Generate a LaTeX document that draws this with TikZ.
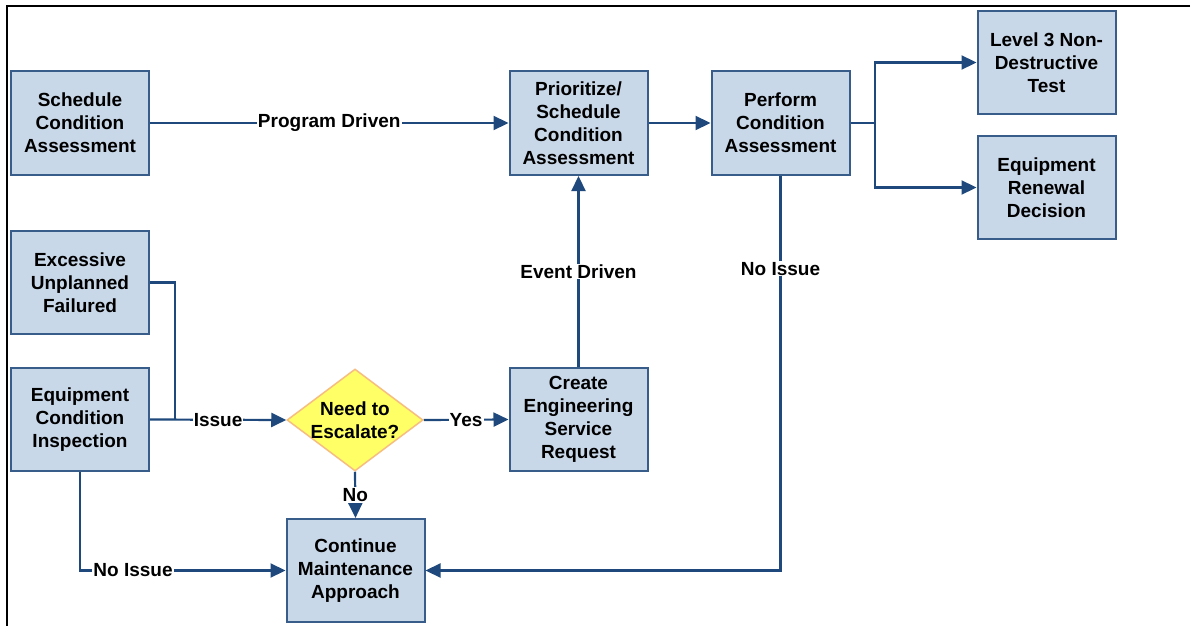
\documentclass[tikz,border=0pt]{standalone}
\usepackage{fontspec}
\setmainfont{Liberation Sans}
\usetikzlibrary{shapes.geometric,arrows.meta}
\definecolor{boxfill}{RGB}{201,216,233}
\definecolor{boxline}{RGB}{56,93,138}
\definecolor{conn}{RGB}{31,73,125}
\definecolor{dfill}{RGB}{255,255,102}
\definecolor{dline}{RGB}{247,190,130}
\tikzset{
  boxnode/.style={draw=boxline, line width=2pt, fill=boxfill, minimum width=138pt, minimum height=104pt,
    inner sep=0pt, align=center, font=\fontsize{19}{23}\selectfont\bfseries},
  dianode/.style={diamond, draw=dline, line width=1.5pt, fill=dfill, minimum width=136pt, minimum height=102pt, inner sep=0pt},
  dtext/.style={align=center, font=\fontsize{19}{23}\selectfont\bfseries},
  lbl/.style={fill=white, inner sep=1pt, font=\fontsize{19}{23}\selectfont\bfseries},
  conline/.style={draw=conn, line width=2.2pt},
  arr/.style={conline, -{Triangle[length=15pt,width=14pt]}},
  frameline/.style={draw=black, line width=2pt}
}
\begin{document}
\begin{tikzpicture}[x=1pt,y=-1pt]
\useasboundingbox (0,0) rectangle (1195,626);
\coordinate (fa) at (1190,6);
\coordinate (fb) at (7,6);
\coordinate (fc) at (7,626);
\draw[frameline] (fa) -- (fb) -- (fc);

\node[boxnode] (sca) at (80,123) {Schedule\\Condition\\Assessment};
\node[boxnode] (pri) at (578.5,123) {Prioritize/\\Schedule\\Condition\\Assessment};
\node[boxnode] (per) at (780.5,123) {Perform\\Condition\\Assessment};
\node[boxnode, minimum height=103pt] (lvl) at (1046.5,62.5) {Level 3 Non-\\Destructive\\Test};
\node[boxnode, minimum height=103pt] (ren) at (1046.5,187.5) {Equipment\\Renewal\\Decision};
\node[boxnode, minimum height=103pt] (exc) at (80,282.5) {Excessive\\Unplanned\\Failured};
\node[boxnode, minimum height=103pt] (eci) at (80,419.5) {Equipment\\Condition\\Inspection};
\node[boxnode, minimum height=103pt] (ces) at (578.5,419.5) {Create\\Engineering\\Service\\Request};
\node[boxnode, minimum height=103pt] (cma) at (355.5,570.5) {Continue\\Maintenance\\Approach};
\node[dianode] (esc) at (355,420) {};
\node[dtext] (esct) at (esc.center) {Need to\\Escalate?};

\coordinate (j1) at (875,123);
\coordinate (j2) at (175,282.5);
\coordinate (j3) at (175,419.5);

\draw[arr] (sca.east) -- node[lbl]{Program Driven} (pri.west);
\draw[arr] (pri.east) -- (per.west);
\draw[conline] (per.east) -- (j1);
\draw[arr] (j1) |- (lvl.west);
\draw[arr] (j1) |- (ren.west);
\draw[arr] (per.south) -- node[lbl,pos=0.235]{No Issue} (per.south |- cma.east) -- (cma.east);
\draw[arr] (ces.north) -- node[lbl]{Event Driven} (pri.south);
\draw[conline] (exc.east) -- (j2) -- (j3);
\draw[arr] (eci.east) -- node[lbl]{Issue} (esc.west);
\draw[arr] (esc.east) -- node[lbl]{Yes} (ces.west);
\draw[arr] (esc.south) -- node[lbl]{No} (cma.north);
\draw[arr] (eci.south) -- (eci.south |- cma.west) -- node[lbl,pos=0.258]{No Issue} (cma.west);
\end{tikzpicture}
\end{document}
